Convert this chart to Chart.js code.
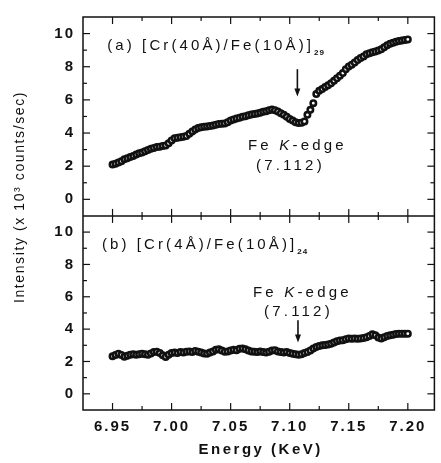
<!DOCTYPE html>
<html lang="en">
<head>
<meta charset="utf-8">
<script src="https://cdn.jsdelivr.net/npm/chart.js"></script>
<style>
  html, body { margin: 0; padding: 0; background: #fff; }
  #wrap { width: 441px; height: 463px; }
</style>
</head>
<body>
<div id="wrap"><canvas id="myChart" width="441" height="463"></canvas></div>
<script>
// energy (KeV) of each scan point
const energy = [
  6.950, 6.9525, 6.955, 6.9575, 6.960, 6.9625, 6.965, 6.9675, 6.970, 6.9725,
  6.975, 6.9775, 6.980, 6.9825, 6.985, 6.9875, 6.990, 6.9925, 6.995, 6.9975,
  7.000, 7.0025, 7.005, 7.0075, 7.010, 7.0125, 7.015, 7.0175, 7.020, 7.0225,
  7.025, 7.0275, 7.030, 7.0325, 7.035, 7.0375, 7.040, 7.0425, 7.045, 7.0475,
  7.050, 7.0525, 7.055, 7.0575, 7.060, 7.0625, 7.065, 7.0675, 7.070, 7.0725,
  7.075, 7.0775, 7.080, 7.0825, 7.085, 7.0875, 7.090, 7.0925, 7.095, 7.0975,
  7.100, 7.1025, 7.105, 7.1075, 7.110, 7.1125, 7.115, 7.1175, 7.120, 7.1225,
  7.125, 7.1275, 7.130, 7.1325, 7.135, 7.1375, 7.140, 7.1425, 7.145, 7.1475,
  7.150, 7.1525, 7.155, 7.1575, 7.160, 7.1625, 7.165, 7.1675, 7.170, 7.1725,
  7.175, 7.1775, 7.180, 7.1825, 7.185, 7.1875, 7.190, 7.1925, 7.195, 7.1975,
  7.200
];
// (a) [Cr(40Å)/Fe(10Å)]29
const intensityA = [
  2.10, 2.15, 2.22, 2.30, 2.42, 2.48, 2.55, 2.62, 2.70, 2.78,
  2.82, 2.90, 2.98, 3.05, 3.10, 3.15, 3.18, 3.22, 3.25, 3.38,
  3.55, 3.68, 3.72, 3.75, 3.78, 3.82, 3.95, 4.10, 4.22, 4.30,
  4.35, 4.38, 4.40, 4.42, 4.45, 4.50, 4.55, 4.56, 4.58, 4.65,
  4.75, 4.82, 4.88, 4.92, 4.98, 5.02, 5.08, 5.12, 5.15, 5.18,
  5.22, 5.28, 5.32, 5.38, 5.42, 5.38, 5.30, 5.20, 5.10, 4.98,
  4.85, 4.75, 4.65, 4.60, 4.62, 4.70, 5.10, 5.40, 5.80, 6.35,
  6.55, 6.65, 6.78, 6.88, 7.00, 7.15, 7.30, 7.45, 7.62, 7.85,
  8.02, 8.12, 8.25, 8.40, 8.52, 8.62, 8.75, 8.82, 8.88, 8.92,
  8.98, 9.05, 9.18, 9.30, 9.38, 9.45, 9.50, 9.55, 9.58, 9.62,
  9.65
];
// (b) [Cr(4Å)/Fe(10Å)]24
const intensityB = [
  2.32, 2.40, 2.48, 2.40, 2.30, 2.35, 2.42, 2.45, 2.42, 2.45,
  2.48, 2.45, 2.42, 2.50, 2.58, 2.60, 2.52, 2.38, 2.28, 2.42,
  2.52, 2.55, 2.52, 2.58, 2.55, 2.60, 2.62, 2.58, 2.65, 2.60,
  2.55, 2.50, 2.48, 2.55, 2.62, 2.72, 2.75, 2.68, 2.60, 2.62,
  2.68, 2.72, 2.70, 2.78, 2.80, 2.75, 2.68, 2.62, 2.60, 2.58,
  2.62, 2.58, 2.55, 2.60, 2.68, 2.70, 2.62, 2.58, 2.55, 2.58,
  2.52, 2.48, 2.45, 2.42, 2.45, 2.52, 2.58, 2.68, 2.80, 2.90,
  2.95, 3.00, 3.02, 3.05, 3.10, 3.18, 3.25, 3.30, 3.32, 3.38,
  3.42, 3.40, 3.42, 3.40, 3.42, 3.45, 3.50, 3.58, 3.68, 3.62,
  3.48, 3.42, 3.50, 3.58, 3.62, 3.65, 3.70, 3.72, 3.72, 3.72,
  3.72
];
const xTicks = [6.95, 7.00, 7.05, 7.10, 7.15, 7.20];
const yTicks = [0, 2, 4, 6, 8, 10];

const FONT = '"Liberation Sans", Arial, sans-serif';
const INK = '#111';

const pts = (ys) => ys.map((y, i) => ({ x: energy[i], y: y }));

// text and arrows placed in data units of each panel
const notes = {
  yTop: { label: '(a) [Cr(40Å)/Fe(10Å)]', sub: '29', lx: 6.9455, ly: 9.0,
          edge: [7.1065, 3.25], val: [7.1006, 2.03], arrow: [7.1065, 7.85, 6.2] },
  yBot: { label: '(b) [Cr(4Å)/Fe(10Å)]', sub: '24', lx: 6.941, ly: 8.97,
          edge: [7.1107, 6.22], val: [7.1074, 5.09], arrow: [7.107, 4.55, 3.18] }
};

function seg(ctx, x1, y1, x2, y2) {
  ctx.beginPath(); ctx.moveTo(x1, y1); ctx.lineTo(x2, y2); ctx.stroke();
}

function drawParts(ctx, parts, cx, cy) {
  // parts: [text, font]; centered on cx
  let total = 0;
  parts.forEach(p => { ctx.font = p[1]; total += ctx.measureText(p[0]).width; });
  let x = cx - total / 2;
  parts.forEach(p => {
    ctx.font = p[1];
    ctx.fillText(p[0], x, cy);
    x += ctx.measureText(p[0]).width;
  });
}

const panelDecor = {
  id: 'panelDecor',
  beforeDraw(chart) { chart.ctx.letterSpacing = '2px'; },
  afterDraw(chart) {
    const { ctx, chartArea: a, scales } = chart;
    const sx = scales.x;
    const mid = scales.yTop.bottom;
    ctx.save();
    ctx.letterSpacing = '0px';
    ctx.strokeStyle = INK;
    ctx.fillStyle = INK;
    ctx.lineWidth = 1.5;
    ctx.strokeRect(a.left, a.top, a.width, a.height);
    seg(ctx, a.left, mid, a.right, mid);

    // x ticks: bottom, top and across the divider
    ctx.lineWidth = 1.2;
    const xMinor = xTicks.slice(1).map((v, i) => (v + xTicks[i]) / 2);
    [[xTicks, 7], [xMinor, 4]].forEach(([vals, len]) => {
      vals.forEach(v => {
        const px = sx.getPixelForValue(v);
        seg(ctx, px, a.bottom, px, a.bottom - len);
        seg(ctx, px, a.top, px, a.top + len);
        seg(ctx, px, mid - len, px, mid + len);
      });
    });

    // y ticks on both sides of each panel
    const yMinor = yTicks.map(v => v + 1).slice(0, -1);
    ['yTop', 'yBot'].forEach(id => {
      const s = scales[id];
      [[yTicks, 7], [yMinor, 4]].forEach(([vals, len]) => {
        vals.forEach(v => {
          const py = s.getPixelForValue(v);
          seg(ctx, a.left, py, a.left + len, py);
          seg(ctx, a.right, py, a.right - len, py);
        });
      });
    });

    // annotations
    ['yTop', 'yBot'].forEach(id => {
      const s = scales[id];
      const n = notes[id];
      ctx.textBaseline = 'alphabetic';
      ctx.textAlign = 'left';
      ctx.letterSpacing = '3.1px';
      ctx.font = '500 15px ' + FONT;
      const lx = sx.getPixelForValue(n.lx), ly = s.getPixelForValue(n.ly);
      ctx.fillText(n.label, lx, ly);
      const w = ctx.measureText(n.label).width;
      ctx.letterSpacing = '1px';
      ctx.font = 'bold 8px ' + FONT;
      ctx.fillText(n.sub, lx + w, ly + 5);

      ctx.textBaseline = 'middle';
      ctx.letterSpacing = '3.2px';
      drawParts(ctx, [['Fe ', '15px ' + FONT], ['K', 'italic 15px ' + FONT], ['-edge', '15px ' + FONT]],
        sx.getPixelForValue(n.edge[0]), s.getPixelForValue(n.edge[1]));
      drawParts(ctx, [['(7.112)', '15px ' + FONT]],
        sx.getPixelForValue(n.val[0]), s.getPixelForValue(n.val[1]));

      // arrow
      const ax = sx.getPixelForValue(n.arrow[0]);
      const y1 = s.getPixelForValue(n.arrow[1]), y2 = s.getPixelForValue(n.arrow[2]);
      ctx.lineWidth = 1.6;
      seg(ctx, ax, y1, ax, y2 - 6);
      ctx.beginPath();
      ctx.moveTo(ax - 3, y2 - 8); ctx.lineTo(ax + 3, y2 - 8); ctx.lineTo(ax, y2);
      ctx.closePath(); ctx.fill();
    });

    // axis titles
    ctx.textAlign = 'center';
    ctx.textBaseline = 'middle';
    ctx.letterSpacing = '2.5px';
    ctx.font = 'bold 15px ' + FONT;
    ctx.fillText('Energy (KeV)', (a.left + a.right) / 2 + 2, 450);
    ctx.translate(20, 197);
    ctx.rotate(-Math.PI / 2);
    ctx.letterSpacing = '1.6px';
    ctx.font = '14px ' + FONT;
    ctx.fillText('Intensity (x 10³ counts/sec)', 0, 0);
    ctx.restore();
  }
};

const yScale = (weight) => ({
  type: 'linear', position: 'left', stack: 'panels', stackWeight: weight,
  min: -1, max: 11,
  afterFit: s => { s.width = 83; },
  afterBuildTicks: s => { s.ticks = yTicks.map(v => ({ value: v })); },
  grid: { display: false, drawTicks: false },
  border: { display: false },
  ticks: { color: INK, padding: 8, font: { family: FONT, size: 15, weight: 'bold' } }
});

const pointStyle = {
  showLine: false, pointRadius: 2.7, pointBorderWidth: 2.6,
  pointBorderColor: INK, pointBackgroundColor: '#fff'
};

new Chart(document.getElementById('myChart'), {
  type: 'scatter',
  data: {
    datasets: [
      Object.assign({ label: 'a', data: pts(intensityA), yAxisID: 'yTop' }, pointStyle),
      Object.assign({ label: 'b', data: pts(intensityB), yAxisID: 'yBot' }, pointStyle)
    ]
  },
  options: {
    responsive: false,
    animation: false,
    layout: { padding: { top: 3, right: 4, left: 0, bottom: 0 } },
    plugins: { legend: { display: false }, tooltip: { enabled: false } },
    scales: {
      x: {
        type: 'linear', position: 'bottom', min: 6.925, max: 7.2225,
        afterFit: s => { s.height = 53; },
        afterBuildTicks: s => { s.ticks = xTicks.map(v => ({ value: v })); },
        grid: { display: false, drawTicks: false },
        border: { display: false },
        ticks: { color: INK, padding: 8, maxRotation: 0,
                 font: { family: FONT, size: 15, weight: 'bold' },
                 callback: v => v.toFixed(2) }
      },
      yBot: yScale(201),
      yTop: yScale(206)
    }
  },
  plugins: [panelDecor]
});
</script>
</body>
</html>
